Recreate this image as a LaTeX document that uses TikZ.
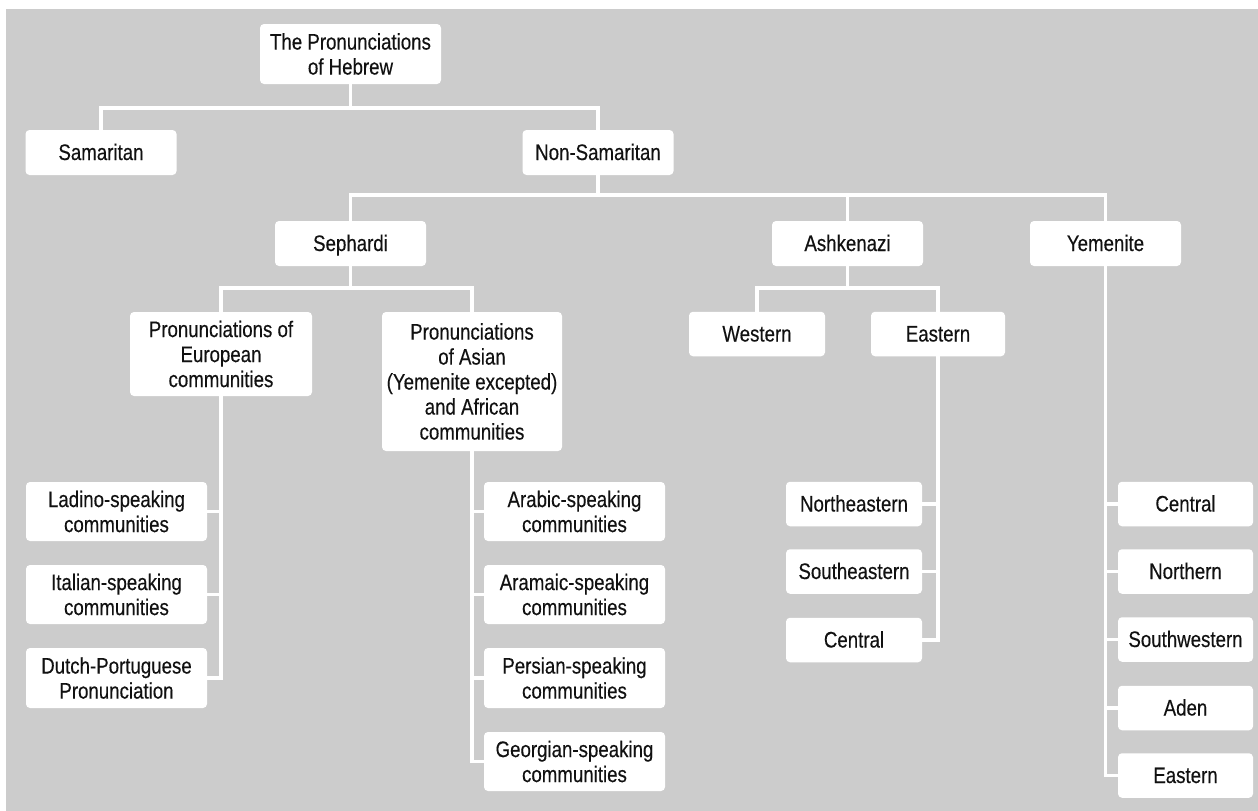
\documentclass[tikz,border=0pt]{standalone}
\usepackage{fontspec}
\setmainfont{Liberation Sans}[FakeStretch=0.83, FakeBold=0.3]
\definecolor{bggrey}{HTML}{CCCCCC}
\definecolor{txt}{HTML}{111111}
\tikzset{
  box/.style={fill=white, draw=none, rounded corners=4pt, align=center, inner sep=0pt,
    text=txt, font=\fontsize{22.5}{25}\selectfont},
  one/.style={text height=17pt, text depth=2pt},
  sbox/.style={box, one, minimum width=151pt, minimum height=45pt},
  wbox/.style={box, minimum width=181pt, minimum height=59pt},
  ebox/.style={box, one, minimum width=136pt, minimum height=44.5pt},
  link/.style={draw=white, line width=3.2pt, line join=miter},
}
\begin{document}
\begin{tikzpicture}[x=1pt, y=-1pt]
\useasboundingbox (0,0) rectangle (1258,811);
\fill[white] (0,0) rectangle (1258,811);
\fill[bggrey] (6,9) rectangle (1258,811);

% nodes
\node[box, minimum width=181pt, minimum height=60pt] (root) at (350.5,54) {The Pronunciations\\of Hebrew};
\node[sbox] (sam) at (101,152.5) {Samaritan};
\node[sbox] (nonsam) at (598,152.5) {Non-Samaritan};
\node[sbox] (seph) at (350.5,243.5) {Sephardi};
\node[sbox] (ashk) at (847.5,243.5) {Ashkenazi};
\node[sbox] (yem) at (1105.5,243.5) {Yemenite};
\node[box, minimum width=182pt, minimum height=84pt] (euro) at (221,354) {Pronunciations of\\European\\communities};
\node[box, minimum width=180pt, minimum height=139pt] (asian) at (472,381.5) {Pronunciations\\of Asian\\(Yemenite excepted)\\and African\\communities};
\node[ebox] (west) at (757,334) {Western};
\node[ebox, minimum width=134pt] (east) at (938,334) {Eastern};

\node[wbox] (ladino) at (116.5,511.5) {Ladino-speaking\\communities};
\node[wbox] (italian) at (116.5,594.5) {Italian-speaking\\communities};
\node[wbox, minimum height=60pt] (dutch) at (116.5,678) {Dutch-Portuguese\\Pronunciation};

\node[wbox] (arabic) at (574.5,511.5) {Arabic-speaking\\communities};
\node[wbox] (aramaic) at (574.5,594.5) {Aramaic-speaking\\communities};
\node[wbox, minimum height=60pt] (persian) at (574.5,678) {Persian-speaking\\communities};
\node[wbox] (georgian) at (574.5,761.5) {Georgian-speaking\\communities};

\node[ebox] (ne) at (854,504) {Northeastern};
\node[ebox] (se) at (854,571.5) {Southeastern};
\node[ebox] (ecent) at (854,640) {Central};

\node[ebox, minimum width=135pt] (ycent) at (1185.5,504) {Central};
\node[ebox, minimum width=135pt] (ynorth) at (1185.5,571.5) {Northern};
\node[ebox, minimum width=135pt] (ysw) at (1185.5,639.5) {Southwestern};
\node[ebox, minimum width=135pt] (yaden) at (1185.5,708) {Aden};
\node[ebox, minimum width=135pt] (yeast) at (1185.5,775.5) {Eastern};

% buses
\coordinate (b1) at (0,108);
\coordinate (b2) at (0,195);
\coordinate (b3) at (0,288);

\draw[link] (root.south) -- (root.south |- b1);
\draw[link] (sam.north) -- (sam.north |- b1) -- (nonsam.north |- b1) -- (nonsam.north);

\draw[link] (nonsam.south) -- (nonsam.south |- b2);
\draw[link] (seph.north) -- (seph.north |- b2) -- (yem.north |- b2) -- (yem.north);
\draw[link] (ashk.north) -- (ashk.north |- b2);

\draw[link] (seph.south) -- (seph.south |- b3);
\draw[link] (euro.north) -- (euro.north |- b3) -- (asian.north |- b3) -- (asian.north);

\draw[link] (ashk.south) -- (ashk.south |- b3);
\draw[link] (west.north) -- (west.north |- b3) -- (east.north |- b3) -- (east.north);

% European spine
\draw[link] (euro.south) -- (euro.south |- dutch.east) -- (dutch.east);
\draw[link] (ladino.east) -- (ladino.east -| euro.south);
\draw[link] (italian.east) -- (italian.east -| euro.south);

% Asian spine
\draw[link] (asian.south) -- (asian.south |- georgian.west) -- (georgian.west);
\draw[link] (arabic.west) -- (arabic.west -| asian.south);
\draw[link] (aramaic.west) -- (aramaic.west -| asian.south);
\draw[link] (persian.west) -- (persian.west -| asian.south);

% Eastern spine
\draw[link] (east.south) -- (east.south |- ecent.east) -- (ecent.east);
\draw[link] (ne.east) -- (ne.east -| east.south);
\draw[link] (se.east) -- (se.east -| east.south);

% Yemenite spine
\draw[link] (yem.south) -- (yem.south |- yeast.west) -- (yeast.west);
\draw[link] (ycent.west) -- (ycent.west -| yem.south);
\draw[link] (ynorth.west) -- (ynorth.west -| yem.south);
\draw[link] (ysw.west) -- (ysw.west -| yem.south);
\draw[link] (yaden.west) -- (yaden.west -| yem.south);
\end{tikzpicture}
\end{document}
